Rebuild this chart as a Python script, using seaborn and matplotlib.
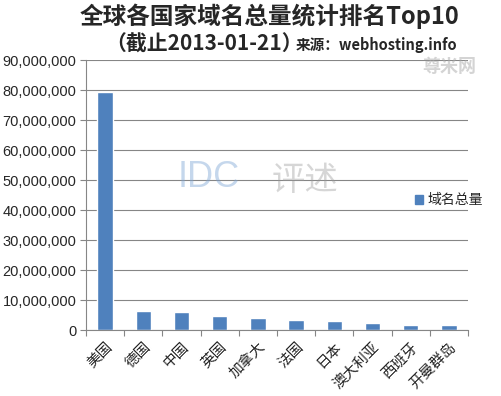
import numpy as np
import pandas as pd
import seaborn as sns
import matplotlib.pyplot as plt
from matplotlib.ticker import FuncFormatter, FixedLocator
from matplotlib.patches import Patch

# data
countries = ['美国', '德国', '中国', '英国', '加拿大', '法国', '日本', '澳大利亚', '西班牙', '开曼群岛']
domains = [79500000, 6300000, 6000000, 4700000, 4000000, 3300000, 3000000, 2300000, 1800000, 1800000]
series_name = '域名总量'

sns.set_theme(style='white')
plt.rcParams['font.family'] = ['Liberation Sans', 'Noto Sans CJK SC', 'DejaVu Sans']
cjk = ['Noto Sans CJK SC', 'DejaVu Sans']

df = pd.DataFrame({'country': countries, 'count': domains})

fig = plt.figure(figsize=(5.01, 3.96), dpi=100)
ax = fig.add_axes([86 / 501, 1 - 330 / 396, (468 - 86) / 501, (330 - 60) / 396])

sns.barplot(data=df, x='country', y='count', color='#4F81BD', saturation=1,
            width=0.4, ax=ax)

ax.set_ylim(0, 90000000)
ax.set_yticks(np.arange(0, 90000001, 10000000))
ax.yaxis.set_major_formatter(FuncFormatter(lambda v, p: f'{int(v):,}'))
ax.set_xlim(-0.5, len(countries) - 0.5)
ax.set_xlabel('')
ax.set_ylabel('')

# gridlines and axes
ax.grid(axis='y', color='#868686', linewidth=0.8)
ax.set_axisbelow(True)
for s in ['top', 'right']:
    ax.spines[s].set_visible(False)
for s in ['left', 'bottom']:
    ax.spines[s].set_color('#868686')
    ax.spines[s].set_linewidth(0.8)

ax.tick_params(axis='y', direction='out', length=4, color='#868686', width=0.8,
               labelsize=10.5, pad=3, left=True)
ax.tick_params(axis='x', which='major', length=0, pad=7)
ax.xaxis.set_minor_locator(FixedLocator(np.arange(-0.5, len(countries), 1)))
ax.tick_params(axis='x', which='minor', direction='out', length=4,
               color='#868686', width=0.8, bottom=True)
for lab in ax.get_xticklabels():
    lab.set_rotation(45)
    lab.set_ha('right')
    lab.set_rotation_mode('anchor')
    lab.set_fontfamily(cjk)
    lab.set_fontsize(10.5)
    lab.set_color('#222222')

# legend
fig.legend(handles=[Patch(color='#4F81BD', label=series_name)],
           loc='center left', bbox_to_anchor=(402 / 501, 1 - 200 / 396),
           frameon=False, handlelength=0.6, handleheight=0.6, handletextpad=0.3,
           prop={'family': cjk, 'size': 10})

# watermarks
fig.text(178 / 501, 1 - 177 / 396, 'IDC', fontsize=26, color='#7FA7D6', alpha=0.45,
         va='center', ha='left')
fig.text(272 / 501, 1 - 180 / 396, '评述', fontsize=24, color='#999999', alpha=0.4,
         va='center', ha='left', family=cjk)
fig.text(422 / 501, 1 - 66 / 396, '尊米网', fontsize=13, color='#AAAAAA', alpha=0.5,
         va='center', ha='left', fontweight='bold', family=cjk)

# titles
fig.text(269 / 501, 1 - 16 / 396, '全球各国家域名总量统计排名Top10', ha='center', va='center',
         fontsize=17, fontweight='bold', family=cjk)
fig.text(105 / 501, 1 - 44 / 396, '（截止2013-01-21）', ha='left', va='center',
         fontsize=15, fontweight='bold', family=cjk)
fig.text(296 / 501, 1 - 45 / 396, '来源：webhosting.info', ha='left', va='center',
         fontsize=10.5, fontweight='bold', family=cjk)

fig.savefig('out.png', dpi=100)
